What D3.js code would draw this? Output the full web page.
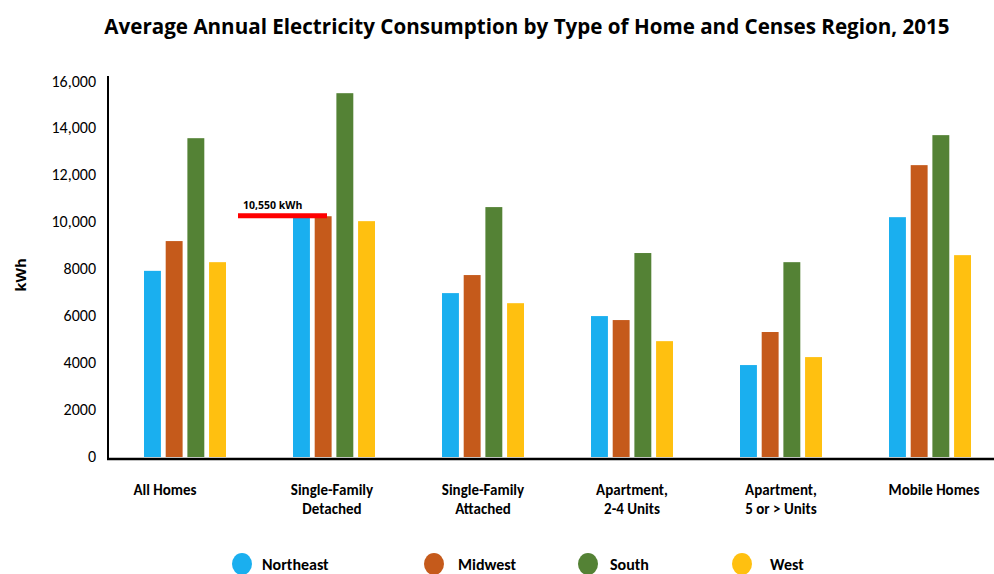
<!DOCTYPE html>
<html><head><meta charset="utf-8">
<script src="https://cdn.jsdelivr.net/npm/d3@7"></script>
<style>body{margin:0;background:#fff}svg{display:block}</style>
</head><body>
<svg id="c" width="994" height="574"></svg>
<script>
const categories = [["All Homes"],["Single-Family","Detached"],["Single-Family","Attached"],["Apartment,","2-4 Units"],["Apartment,","5 or > Units"],["Mobile Homes"]];
const labelShift = [-20, -2, 0, 0, 0, 4];
const regions = ["Northeast","Midwest","South","West"];
const colors = ["#1AAFEF","#C55A1B","#548235","#FFC010"];
const northeast = [7900, 10180, 6950, 5970, 3880, 10190];
const midwest   = [9170, 10230, 7720, 5800, 5290, 12410];
const south     = [13560, 15480, 10620, 8660, 8270, 13690];
const west      = [8270, 10020, 6520, 4900, 4220, 8570];
const yTicks = [0,2000,4000,6000,8000,10000,12000,14000,16000];
const yTickLabels = ["0","2000","4000","6000","8000","10,000","12,000","14,000","16,000"];
const annotationValue = 10250;
const annotationLabel = "10,550 kWh";
const series = [northeast, midwest, south, west];

const svg = d3.select("#c");
const fontNarrow = "Carlito, 'Liberation Sans Narrow', 'Open Sans', sans-serif";
const x = d3.scaleBand().domain(d3.range(categories.length)).range([110.5, 1004.5]).paddingInner(0).paddingOuter(0);
const xs = d3.scaleBand().domain(d3.range(regions.length)).range([0, 82]).paddingInner(0.22).paddingOuter(0);
const y = d3.scaleLinear().domain([0, 16000]).range([456, 81]);

svg.append("text").attr("x", 527).attr("y", 34).attr("text-anchor","middle")
  .attr("font-family","'Open Sans', sans-serif").attr("font-weight","bold").attr("font-size",20.6)
  .text("Average Annual Electricity Consumption by Type of Home and Censes Region, 2015");

// y tick labels
svg.append("g").selectAll("text").data(yTicks).join("text")
  .attr("x", 96).attr("y", d => y(d)).attr("dy","0.35em").attr("text-anchor","end")
  .attr("font-family", fontNarrow).attr("font-size",16).attr("fill","#000")
  .text((d,i) => yTickLabels[i]);

svg.append("text").attr("transform","translate(26,275) rotate(-90)").attr("text-anchor","middle")
  .attr("font-family","'Open Sans', sans-serif").attr("font-weight","bold").attr("font-size",15).text("kWh");

// bars
categories.forEach((c, ci) => {
  const g = svg.append("g").attr("transform", `translate(${x(ci) + x.bandwidth()/2 - 41},0)`);
  g.selectAll("rect").data(series.map((s, si) => ({v: s[ci], si}))).join("rect")
    .attr("x", d => xs(d.si)).attr("width", xs.bandwidth())
    .attr("y", d => y(d.v)).attr("height", d => y(0) + 1 - y(d.v))
    .attr("fill", d => colors[d.si]);
});

// axes lines
svg.append("line").attr("x1",108).attr("x2",108).attr("y1",76).attr("y2",460).attr("stroke","#000").attr("stroke-width",2);
svg.append("line").attr("x1",107).attr("x2",994).attr("y1",459).attr("y2",459).attr("stroke","#000").attr("stroke-width",2.5);

// x labels
categories.forEach((c, ci) => {
  const cx = x(ci) + x.bandwidth()/2 + labelShift[ci];
  const t = svg.append("text").attr("x", cx).attr("y", 495).attr("text-anchor","middle")
    .attr("font-family", fontNarrow).attr("font-weight","bold").attr("font-size",15);
  c.forEach((line, li) => t.append("tspan").attr("x", cx).attr("dy", li === 0 ? 0 : 19).text(line));
});

// annotation
svg.append("line").attr("x1", 238).attr("x2", 327).attr("y1", y(annotationValue)).attr("y2", y(annotationValue))
  .attr("stroke", "#FF0000").attr("stroke-width", 5);
svg.append("text").attr("x", 243).attr("y", y(annotationValue) - 7)
  .attr("font-family","'Open Sans', sans-serif").attr("font-weight","bold").attr("font-size",10.5).text(annotationLabel);

// legend
const legX = [242, 434, 588, 742];
const legTX = [262, 458, 610, 770];
regions.forEach((r, i) => {
  svg.append("ellipse").attr("cx", legX[i]).attr("cy", 564).attr("rx", 10).attr("ry", 11).attr("fill", colors[i]);
  svg.append("text").attr("x", legTX[i]).attr("y", 564).attr("dy","0.35em")
    .attr("font-family", fontNarrow).attr("font-weight","bold").attr("font-size",16).text(r);
});
</script>
</body></html>
